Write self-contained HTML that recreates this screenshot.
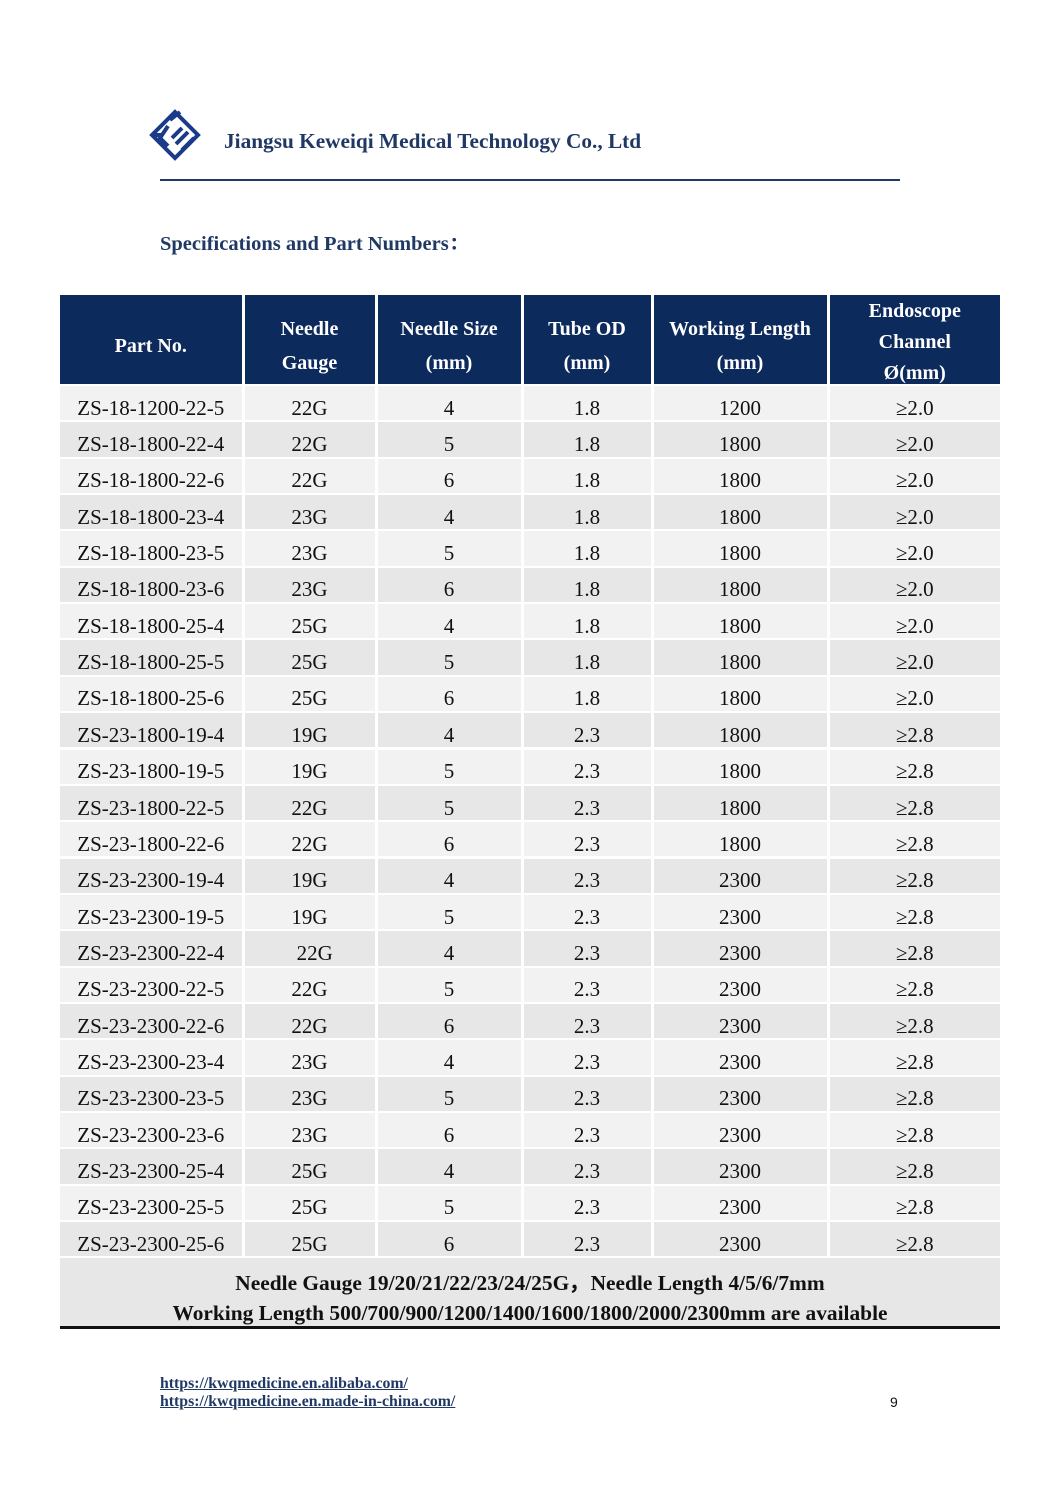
<!DOCTYPE html>
<html><head><meta charset="utf-8"><style>
*{margin:0;padding:0;box-sizing:border-box}
body{width:1060px;height:1499px;background:#fff;position:relative;font-family:"Liberation Serif",serif;overflow:hidden}
.a{position:absolute}
.c{position:absolute;display:flex;align-items:center;justify-content:center;font-size:21px;color:#111;padding-top:10px}
.h{position:absolute;display:flex;align-items:center;justify-content:center;text-align:center;background:#0d2a5c;color:#fff;font-weight:bold;font-size:20px;line-height:34px;padding-top:12px}
.h.e{line-height:31px;padding-top:6px}
</style></head><body>
<svg class="a" style="left:148px;top:108px" width="54" height="54" viewBox="0 0 54 54">
<g fill="none" stroke="#1a3a8a" stroke-width="4">
<path d="M27 4 L50 27 L27 50 L4 27 Z"/>
<path d="M6 27 L14 27 M20 18 L12 30 L20 38 M24 30 L34 20 M28 36 L40 24 M34 42 L46 30 M22 12 L32 4"/>
</g></svg>
<div class="a" style="left:224px;top:129px;font-size:21.3px;font-weight:bold;color:#1f3864">Jiangsu Keweiqi Medical Technology Co., Ltd</div>
<div class="a" style="left:160px;top:179px;width:740px;height:2px;background:#1f3864"></div>
<div class="a" style="left:160px;top:226px;font-size:20.5px;font-weight:bold;color:#1f3864;font-family:'Liberation Serif','Noto Serif CJK SC',serif">Specifications and Part Numbers：</div>
<div id="t"></div>
<script>
var cols=[60,243,376,522,652,828,1000];
var hd=["Part No.","Needle<br>Gauge","Needle Size<br>(mm)","Tube OD<br>(mm)","Working Length<br>(mm)","Endoscope<br>Channel<br>Ø(mm)"];
var rows=[["ZS-18-1200-22-5","22G","4","1.8","1200","≥2.0"],["ZS-18-1800-22-4","22G","5","1.8","1800","≥2.0"],["ZS-18-1800-22-6","22G","6","1.8","1800","≥2.0"],["ZS-18-1800-23-4","23G","4","1.8","1800","≥2.0"],["ZS-18-1800-23-5","23G","5","1.8","1800","≥2.0"],["ZS-18-1800-23-6","23G","6","1.8","1800","≥2.0"],["ZS-18-1800-25-4","25G","4","1.8","1800","≥2.0"],["ZS-18-1800-25-5","25G","5","1.8","1800","≥2.0"],["ZS-18-1800-25-6","25G","6","1.8","1800","≥2.0"],["ZS-23-1800-19-4","19G","4","2.3","1800","≥2.8"],["ZS-23-1800-19-5","19G","5","2.3","1800","≥2.8"],["ZS-23-1800-22-5","22G","5","2.3","1800","≥2.8"],["ZS-23-1800-22-6","22G","6","2.3","1800","≥2.8"],["ZS-23-2300-19-4","19G","4","2.3","2300","≥2.8"],["ZS-23-2300-19-5","19G","5","2.3","2300","≥2.8"],["ZS-23-2300-22-4","&nbsp;&nbsp;22G","4","2.3","2300","≥2.8"],["ZS-23-2300-22-5","22G","5","2.3","2300","≥2.8"],["ZS-23-2300-22-6","22G","6","2.3","2300","≥2.8"],["ZS-23-2300-23-4","23G","4","2.3","2300","≥2.8"],["ZS-23-2300-23-5","23G","5","2.3","2300","≥2.8"],["ZS-23-2300-23-6","23G","6","2.3","2300","≥2.8"],["ZS-23-2300-25-4","25G","4","2.3","2300","≥2.8"],["ZS-23-2300-25-5","25G","5","2.3","2300","≥2.8"],["ZS-23-2300-25-6","25G","6","2.3","2300","≥2.8"]];
var h="";
for(var j=0;j<6;j++){var l=cols[j]+(j?1.5:0),w=cols[j+1]-cols[j]-(j?1.5:0)-(j<5?1.5:0);
h+='<div class="h'+(j==5?' e':'')+'" style="left:'+l+'px;top:295px;width:'+w+'px;height:89px">'+hd[j]+'</div>';}
for(var i=0;i<rows.length;i++){var yy=386+i*36.35;var bg=i%2?"#e7e7e7":"#f2f2f2";
for(var j=0;j<6;j++){var l=cols[j]+(j?1.5:0),w=cols[j+1]-cols[j]-(j?1.5:0)-(j<5?1.5:0);
h+='<div class="c" style="left:'+l+'px;top:'+yy+'px;width:'+w+'px;height:34.3px;background:'+bg+'">'+rows[i][j]+'</div>';}}
document.getElementById("t").innerHTML=h;
</script>
<div class="a" style="left:60px;top:1258px;width:940px;height:69px;background:#e7e7e7"></div>
<div class="a" style="left:60px;top:1326px;width:940px;height:2.5px;background:#111"></div>
<div class="a" style="left:60px;top:1266px;width:940px;text-align:center;font-size:21.4px;font-weight:bold;color:#111">Needle Gauge 19/20/21/22/23/24/25G，Needle Length 4/5/6/7mm</div>
<div class="a" style="left:60px;top:1301px;width:940px;text-align:center;font-size:21.4px;font-weight:bold;color:#111">Working Length 500/700/900/1200/1400/1600/1800/2000/2300mm are available</div>
<div class="a" style="left:160px;top:1375px;font-size:15.8px;font-weight:bold;color:#1f3864;text-decoration:underline;line-height:18px">https://kwqmedicine.en.alibaba.com/<br>https://kwqmedicine.en.made-in-china.com/</div>
<div class="a" style="left:890px;top:1394px;font-family:'Liberation Sans',sans-serif;font-size:14px;color:#111">9</div>
</body></html>
